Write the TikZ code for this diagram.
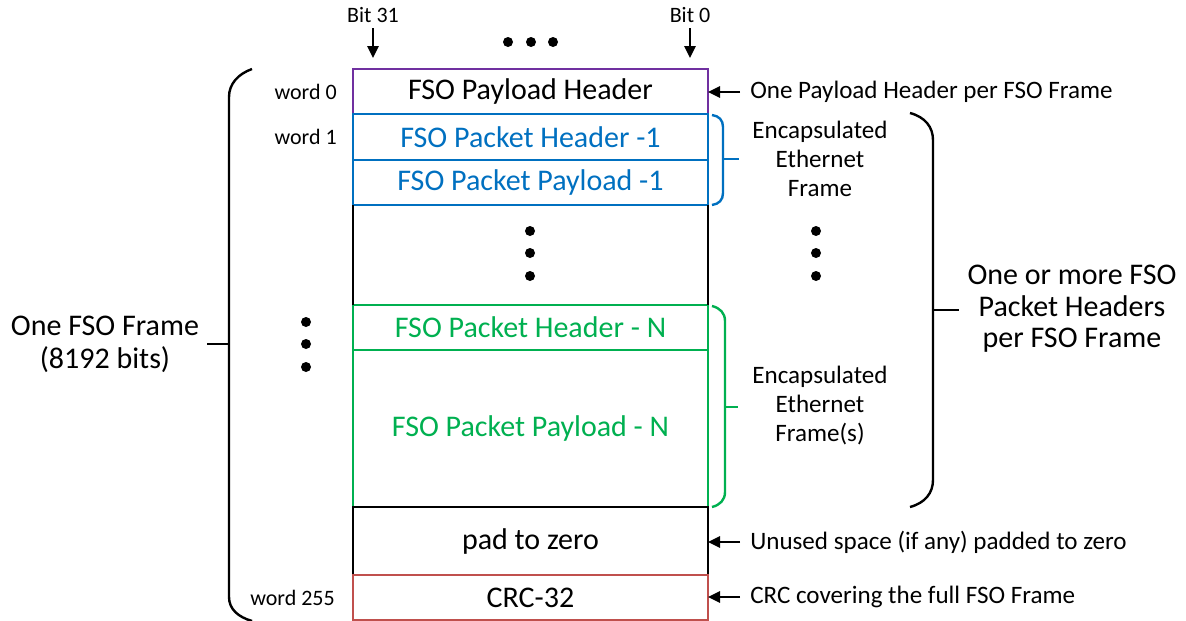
\documentclass[tikz,border=0pt]{standalone}
\usepackage{fontspec}
\setmainfont{Carlito}
\usetikzlibrary{arrows.meta}
\definecolor{hdrpurple}{RGB}{112,48,160}
\definecolor{pktblue}{RGB}{0,112,192}
\definecolor{pktgreen}{RGB}{0,176,80}
\definecolor{crcred}{RGB}{192,80,77}

\begin{document}
\begin{tikzpicture}[x=0.75pt,y=-0.75pt,
  row/.style={draw, line width=1.5pt, minimum width=266.25pt, inner sep=0pt, outer sep=0pt,
              font=\fontsize{22.5}{27}\selectfont},
  lbl/.style={font=\fontsize{18.8}{21.75}\selectfont, inner sep=0pt},
  small/.style={font=\fontsize{16.5}{20}\selectfont, inner sep=0pt},
  big/.style={font=\fontsize{22.5}{23.5}\selectfont, inner sep=0pt, align=center},
  brace/.style={line width=1.8pt},
  ptr/.style={-{Triangle[length=9pt,width=8.5pt]}, line width=1.3pt},
  dot/.style={circle, fill=black, inner sep=0pt, minimum size=7.5pt}
]
\useasboundingbox (0,0) rectangle (1186,621);

% frame rows
\node[row, draw=hdrpurple, minimum height=33.75pt] (plh) at (530.5,91.5) {FSO Payload Header};
\node[row, draw=pktblue, text=pktblue, minimum height=34.5pt] (ph1) at (530.5,137) {FSO Packet Header -1};
\node[row, draw=pktblue, text=pktblue, minimum height=33.75pt] (pp1) at (530.5,182.5) {FSO Packet Payload -1};
\node[row, draw=pktgreen, text=pktgreen, minimum height=33.75pt] (phn) at (530.5,327.5) {FSO Packet Header - N};
\node[row, draw=pktgreen, text=pktgreen, minimum height=117.75pt] (ppn) at (530.5,428.5) {\raisebox{-3pt}{FSO Packet Payload - N}};
\node[row, draw=black, minimum height=51pt] (pad) at (530.5,541) {\raisebox{-2pt}{pad to zero}};
\node[row, draw=crcred, minimum height=33.75pt] (crc) at (530.5,597.5) {CRC-32};
\draw[line width=1.5pt] (pp1.south west) -- (phn.north west);
\draw[line width=1.5pt] (pp1.south east) -- (phn.north east);

% bit markers
\node[small] (b31) at (373,15) {Bit 31};
\node[small] (b0) at (690,15) {Bit 0};
\coordinate (b31tip) at (373,58);
\coordinate (b0tip) at (690,58);
\draw[ptr] ([yshift=-4pt]b31.south) -- (b31tip);
\draw[ptr] ([yshift=-4pt]b0.south) -- (b0tip);
\node[dot] (h1) at (508,42) {};
\node[dot] (h2) at (531,42) {};
\node[dot] (h3) at (553,42) {};

% vertical ellipses
\node[dot] (m1) at (530,231) {};
\node[dot] (m2) at (530,253) {};
\node[dot] (m3) at (530,276) {};
\node[dot] (r1) at (816,231) {};
\node[dot] (r2) at (816,253) {};
\node[dot] (r3) at (816,276) {};
\node[dot] (l1) at (306,322) {};
\node[dot] (l2) at (306,344) {};
\node[dot] (l3) at (306,367) {};

% word labels
\node[small, anchor=east] (w0) at (337,92) {word 0};
\node[small, anchor=east] (w1) at (337,137) {word 1};
\node[small, anchor=east] (w255) at (335,598) {word 255};

% whole-frame brace
\node[big, font=\fontsize{22.5}{24.75}\selectfont] (frame) at (105,344) {One FSO Frame\\(8192 bits)};
\coordinate (lbmid) at (229,344);
\draw[brace] (252,69) .. controls (238,74) and (229,84) .. (229,97) -- (229,597)
             .. controls (229,609) and (238,617) .. (252,621);
\draw[brace] (lbmid) -- ([xshift=6pt]frame.east |- lbmid);

% right-hand notes with pointers
\node[lbl, anchor=west] (n1) at (750,92) {One Payload Header per FSO Frame};
\draw[ptr] ([xshift=-7.5pt]n1.west) -- (n1.west -| plh.east);
\node[lbl, anchor=west] (n3) at (750,542) {Unused space (if any) padded to zero};
\draw[ptr] ([xshift=-7.5pt]n3.west) -- (n3.west -| pad.east);
\node[lbl, anchor=west] (n4) at (750,597) {CRC covering the full FSO Frame};
\draw[ptr] ([xshift=-7.5pt]n4.west) -- (n4.west -| crc.east);

% first packet brace
\node[lbl, align=center] (enc1) at (820,159) {Encapsulated\\Ethernet\\Frame};
\draw[brace, pktblue] (712,115) .. controls (719,116) and (723,120) .. (723,127) -- (723,193)
                      .. controls (723,200) and (719,204) .. (712,205);
\coordinate (bbmid) at (723,159);
\draw[brace, pktblue] (bbmid) -- ([xshift=12pt]bbmid);

% last packet brace
\node[lbl, align=center] (enc2) at (820,406) {Encapsulated\\Ethernet\\Frame(s)};
\draw[brace, pktgreen] (712,306) .. controls (720,308) and (725,313) .. (725,321) -- (725,492)
                       .. controls (725,500) and (720,505) .. (712,507);
\coordinate (gbmid) at (725,407);
\draw[brace, pktgreen] (gbmid) -- ([xshift=10pt]gbmid);

% all-packets brace
\node[big] (more) at (1072,309) {One or more FSO\\Packet Headers\\per FSO Frame};
\draw[brace] (910,113) .. controls (925,117) and (933,127) .. (933,140) -- (933,480)
             .. controls (933,493) and (925,503) .. (910,507);
\coordinate (kbmid) at (933,310);
\draw[brace] (kbmid) -- ([xshift=-6pt]more.west |- kbmid);
\end{tikzpicture}
\end{document}
